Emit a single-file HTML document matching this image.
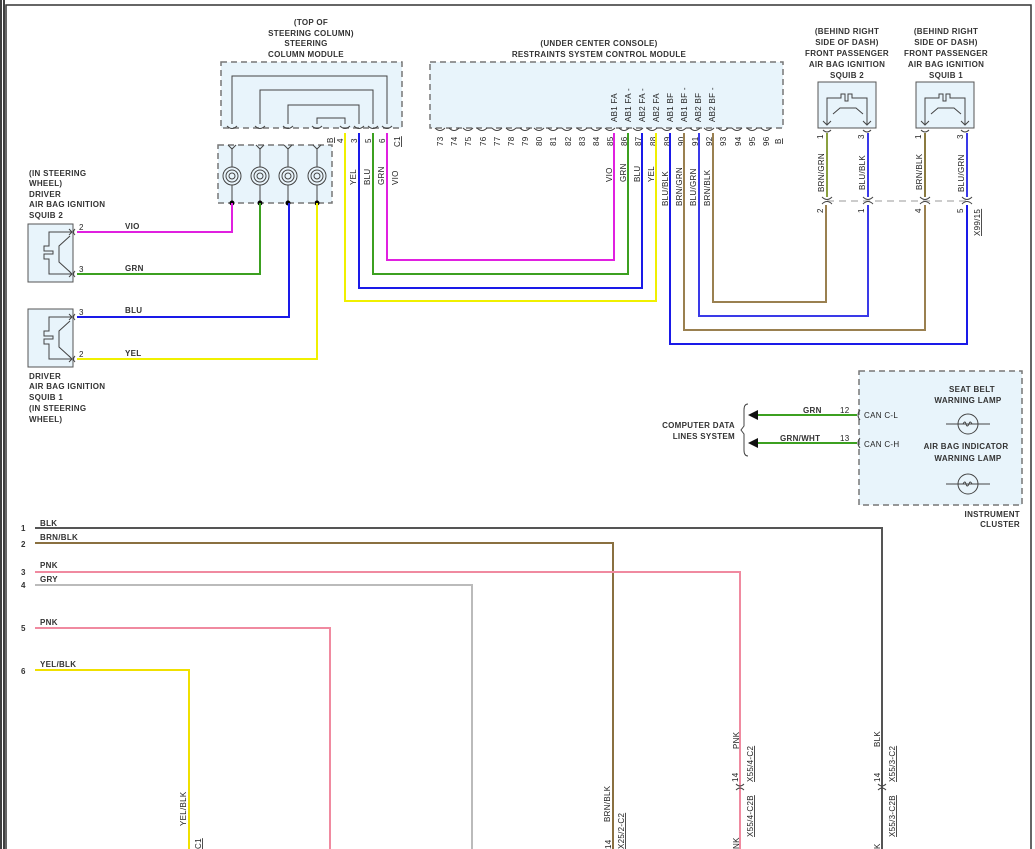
<!DOCTYPE html>
<html><head><meta charset="utf-8"><style>
html,body{margin:0;padding:0;background:#fff}
svg{display:block}
text{font-family:"Liberation Sans",sans-serif;font-size:8px;fill:#222;letter-spacing:0.3px}
.b{font-weight:bold;fill:#333}
</style></head><body>
<svg width="1035" height="849" viewBox="0 0 1035 849" xmlns="http://www.w3.org/2000/svg">
<!-- frame -->
<line x1="1" y1="0" x2="1" y2="849" stroke="#000" stroke-width="1.5"/>
<line x1="4" y1="0" x2="4" y2="849" stroke="#000" stroke-width="1.5"/>
<polyline points="6,849 6,5 1031,5 1031,849" fill="none" stroke="#333" stroke-width="1.5"/>

<!-- Steering column module -->
<text class="b" x="311" y="25" text-anchor="middle">(TOP OF</text>
<text class="b" x="311" y="36" text-anchor="middle">STEERING COLUMN)</text>
<text class="b" x="306" y="46" text-anchor="middle">STEERING</text>
<text class="b" x="306" y="57" text-anchor="middle">COLUMN MODULE</text>
<rect x="221" y="62" width="181" height="66" fill="#e8f4fb" stroke="#777" stroke-width="1.5" stroke-dasharray="6,4"/>
<g fill="none" stroke="#444" stroke-width="1">
<polyline points="232,124 232,76 387,76 387,124"/>
<polyline points="260,124 260,90 373,90 373,124"/>
<polyline points="288,124 288,105 359,105 359,124"/>
<polyline points="317,124 317,118 345,118 345,124"/>
</g>
<g fill="none" stroke="#444" stroke-width="1">
<path d="M227,126 q5,5 10,0 M255,126 q5,5 10,0 M283,126 q5,5 10,0 M312,126 q5,5 10,0 M340,126 q5,5 10,0 M354,126 q5,5 10,0 M368,126 q5,5 10,0 M382,126 q5,5 10,0"/>
</g>
<g transform="rotate(-90)">
<text x="-143" y="333" style="text-decoration:underline">B</text>
<text x="-143" y="343">4</text><text x="-143" y="357">3</text><text x="-143" y="371">5</text><text x="-143" y="385">6</text>
<text x="-147" y="400" style="text-decoration:underline">C1</text>
<text x="-185" y="356">YEL</text><text x="-185" y="370">BLU</text><text x="-185" y="384">GRN</text><text x="-185" y="398">VIO</text>
</g>
<!-- clockspring -->
<rect x="218" y="145" width="114" height="58" fill="#e8f4fb" stroke="#777" stroke-width="1.5" stroke-dasharray="6,4"/>
<g fill="none" stroke="#444" stroke-width="1">
<path d="M228,145 l4,4 l4,-4 M256,145 l4,4 l4,-4 M284,145 l4,4 l4,-4 M313,145 l4,4 l4,-4"/>
<line x1="232" y1="149" x2="232" y2="167"/><line x1="260" y1="149" x2="260" y2="167"/><line x1="288" y1="149" x2="288" y2="167"/><line x1="317" y1="149" x2="317" y2="167"/>
<g id="sp"><circle cx="232" cy="176" r="9"/><circle cx="232" cy="176" r="6"/><circle cx="232" cy="176" r="3"/><line x1="232" y1="185" x2="232" y2="203"/></g>
<use href="#sp" x="28"/><use href="#sp" x="56"/><use href="#sp" x="85"/>
</g>
<circle cx="232" cy="203" r="2.5" fill="#000"/><circle cx="260" cy="203" r="2.5" fill="#000"/><circle cx="288" cy="203" r="2.5" fill="#000"/><circle cx="317" cy="203" r="2.5" fill="#000"/>

<!-- RSCM -->
<text class="b" x="599" y="46" text-anchor="middle">(UNDER CENTER CONSOLE)</text>
<text class="b" x="599" y="57" text-anchor="middle">RESTRAINTS SYSTEM CONTROL MODULE</text>
<rect x="430" y="62" width="353" height="66" fill="#e8f4fb" stroke="#777" stroke-width="1.5" stroke-dasharray="6,4"/>
<g fill="none" stroke="#444" stroke-width="1" id="rp">
<path d="M435,128 q5,5 10,0 M449,128 q5,5 10,0 M463,128 q5,5 10,0 M477,128 q5,5 10,0 M492,128 q5,5 10,0 M506,128 q5,5 10,0 M520,128 q5,5 10,0 M534,128 q5,5 10,0 M548,128 q5,5 10,0 M562,128 q5,5 10,0 M577,128 q5,5 10,0 M591,128 q5,5 10,0 M605,128 q5,5 10,0 M619,128 q5,5 10,0 M633,128 q5,5 10,0 M647,128 q5,5 10,0 M662,128 q5,5 10,0 M676,128 q5,5 10,0 M690,128 q5,5 10,0 M704,128 q5,5 10,0 M718,128 q5,5 10,0 M732,128 q5,5 10,0 M747,128 q5,5 10,0 M761,128 q5,5 10,0"/>
</g>
<g transform="rotate(-90)">
<text x="-146" y="443">73</text><text x="-146" y="457">74</text><text x="-146" y="471">75</text><text x="-146" y="486">76</text><text x="-146" y="500">77</text><text x="-146" y="514">78</text><text x="-146" y="528">79</text><text x="-146" y="542">80</text><text x="-146" y="556">81</text><text x="-146" y="571">82</text><text x="-146" y="585">83</text><text x="-146" y="599">84</text><text x="-146" y="613">85</text><text x="-146" y="627">86</text><text x="-146" y="641">87</text><text x="-146" y="656">88</text><text x="-146" y="670">89</text><text x="-146" y="684">90</text><text x="-146" y="698">91</text><text x="-146" y="712">92</text><text x="-146" y="726">93</text><text x="-146" y="741">94</text><text x="-146" y="755">95</text><text x="-146" y="769">96</text>
<text x="-144" y="781" style="text-decoration:underline">B</text>
<text x="-122" y="617">AB1 FA</text><text x="-122" y="631">AB1 FA -</text><text x="-122" y="645">AB2 FA -</text><text x="-122" y="659">AB2 FA</text><text x="-122" y="673">AB1 BF</text><text x="-122" y="687">AB1 BF -</text><text x="-122" y="701">AB2 BF</text><text x="-122" y="715">AB2 BF -</text>
<text x="-182" y="612">VIO</text><text x="-182" y="626">GRN</text><text x="-182" y="640">BLU</text><text x="-182" y="654">YEL</text>
<text x="-206" y="668">BLU/BLK</text><text x="-206" y="682">BRN/GRN</text><text x="-206" y="696">BLU/GRN</text><text x="-206" y="710">BRN/BLK</text>
</g>

<!-- passenger squibs -->
<text class="b" x="847" y="34" text-anchor="middle">(BEHIND RIGHT</text>
<text class="b" x="847" y="45" text-anchor="middle">SIDE OF DASH)</text>
<text class="b" x="847" y="56" text-anchor="middle">FRONT PASSENGER</text>
<text class="b" x="847" y="67" text-anchor="middle">AIR BAG IGNITION</text>
<text class="b" x="847" y="78" text-anchor="middle">SQUIB 2</text>
<text class="b" x="946" y="34" text-anchor="middle">(BEHIND RIGHT</text>
<text class="b" x="946" y="45" text-anchor="middle">SIDE OF DASH)</text>
<text class="b" x="946" y="56" text-anchor="middle">FRONT PASSENGER</text>
<text class="b" x="946" y="67" text-anchor="middle">AIR BAG IGNITION</text>
<text class="b" x="946" y="78" text-anchor="middle">SQUIB 1</text>
<g id="ps" fill="none" stroke="#444" stroke-width="1">
<rect x="818" y="82" width="58" height="46" fill="#e8f4fb" stroke="#555"/>
<polyline points="827,124 827,98 841,98 841,94 845,94 845,101 848,101 848,94 852,94 852,98 867,98 867,124"/>
<polyline points="833,114 840,108 856,108 863,114"/>
<path d="M823,121 l4,4 l4,-4 M863,121 l4,4 l4,-4 M823,130 q4,4 8,0 M863,130 q4,4 8,0"/>
</g>
<use href="#ps" x="98"/>
<line x1="827" y1="201" x2="967" y2="201" stroke="#ccc" stroke-width="2" stroke-dasharray="7,5"/>
<g fill="none" stroke="#444" stroke-width="1">
<path d="M822,197 q5,5 10,0 M822,204 q5,-5 10,0 M863,197 q5,5 10,0 M863,204 q5,-5 10,0 M920,197 q5,5 10,0 M920,204 q5,-5 10,0 M962,197 q5,5 10,0 M962,204 q5,-5 10,0"/>
</g>
<g transform="rotate(-90)">
<text x="-139" y="823">1</text><text x="-139" y="864">3</text><text x="-139" y="921">1</text><text x="-139" y="963">3</text>
<text x="-213" y="823">2</text><text x="-213" y="864">1</text><text x="-213" y="921">4</text><text x="-213" y="963">5</text>
<text x="-192" y="824">BRN/GRN</text><text x="-190" y="865">BLU/BLK</text><text x="-190" y="922">BRN/BLK</text><text x="-192" y="964">BLU/GRN</text>
<text x="-236" y="980" style="text-decoration:underline">X99/15</text>
</g>

<!-- wires top -->
<g fill="none" stroke-width="2">
<polyline stroke="#e020e0" points="387,133 387,260 614,260 614,133"/>
<polyline stroke="#3ca020" points="373,133 373,274 628,274 628,133"/>
<polyline stroke="#1a1ae8" points="359,133 359,288 642,288 642,133"/>
<polyline stroke="#f0f000" points="345,133 345,301 656,301 656,133"/>
<polyline stroke="#9a8050" points="713,133 713,302 826,302 826,205"/>
<polyline stroke="#3a3ae8" points="699,133 699,316 868,316 868,205"/>
<polyline stroke="#9a8050" points="684,133 684,330 925,330 925,205"/>
<polyline stroke="#1a1ae8" points="670,133 670,344 967,344 967,205"/>
<line stroke="#8aa040" x1="827" y1="133" x2="827" y2="197"/>
<line stroke="#3a3ae8" x1="868" y1="133" x2="868" y2="197"/>
<line stroke="#8a7a40" x1="925" y1="133" x2="925" y2="197"/>
<line stroke="#3a3ae8" x1="967" y1="133" x2="967" y2="197"/>
<polyline stroke="#e020e0" points="77,232 232,232 232,203"/>
<polyline stroke="#3ca020" points="77,274 260,274 260,203"/>
<polyline stroke="#1a1ae8" points="77,317 289,317 289,203"/>
<polyline stroke="#f0f000" points="77,359 317,359 317,203"/>
</g>

<!-- driver squibs -->
<text class="b" x="29" y="176">(IN STEERING</text>
<text class="b" x="29" y="186">WHEEL)</text>
<text class="b" x="29" y="197">DRIVER</text>
<text class="b" x="29" y="207">AIR BAG IGNITION</text>
<text class="b" x="29" y="218">SQUIB 2</text>
<g id="ds" fill="none" stroke="#444" stroke-width="1">
<rect x="28" y="224" width="45" height="58" fill="#e8f4fb" stroke="#555"/>
<polyline points="72,232 49,232 49,246 44,246 44,251 53,251 53,254 44,254 44,259 49,259 49,274 72,274"/>
<polyline points="70,236 59,246 59,262 70,272"/>
<path d="M69,229 l3,3 l-3,3 M69,271 l3,3 l-3,3 M75,229 q-3,3 0,6 M75,271 q-3,3 0,6"/>
</g>
<use href="#ds" y="85"/>
<text x="79" y="230">2</text><text x="79" y="272">3</text><text x="79" y="315">3</text><text x="79" y="357">2</text>
<text class="b" x="125" y="229">VIO</text><text class="b" x="125" y="271">GRN</text><text class="b" x="125" y="313">BLU</text><text class="b" x="125" y="356">YEL</text>
<text class="b" x="29" y="379">DRIVER</text>
<text class="b" x="29" y="389">AIR BAG IGNITION</text>
<text class="b" x="29" y="400">SQUIB 1</text>
<text class="b" x="29" y="411">(IN STEERING</text>
<text class="b" x="29" y="422">WHEEL)</text>

<!-- instrument cluster -->
<rect x="859" y="371" width="163" height="134" fill="#e8f4fb" stroke="#777" stroke-width="1.5" stroke-dasharray="6,4"/>
<text class="b" x="972" y="392" text-anchor="middle">SEAT BELT</text>
<text class="b" x="968" y="403" text-anchor="middle">WARNING LAMP</text>
<text class="b" x="966" y="449" text-anchor="middle">AIR BAG INDICATOR</text>
<text class="b" x="968" y="461" text-anchor="middle">WARNING LAMP</text>
<g fill="none" stroke="#444" stroke-width="1">
<circle cx="968" cy="424" r="10"/><line x1="946" y1="424" x2="990" y2="424"/><path d="M963,424 q2,-4 3,0 q1,4 3,0 q1,-4 3,0"/>
<circle cx="968" cy="484" r="10"/><line x1="946" y1="484" x2="990" y2="484"/><path d="M963,484 q2,-4 3,0 q1,4 3,0 q1,-4 3,0"/>
<path d="M860,410 q-4,5 0,10 M860,438 q-4,5 0,10"/>
<path d="M748,404 q-4,0 -4,6 l0,16 l-3,4 l3,4 l0,16 q0,6 4,6"/>
</g>
<text x="864" y="418">CAN C-L</text><text x="864" y="447">CAN C-H</text>
<text x="840" y="413">12</text><text x="840" y="441">13</text>
<text class="b" x="803" y="413">GRN</text><text class="b" x="780" y="441">GRN/WHT</text>
<line x1="757" y1="415" x2="857" y2="415" stroke="#3ca020" stroke-width="2"/>
<line x1="757" y1="443" x2="857" y2="443" stroke="#3ca020" stroke-width="2"/>
<path d="M748,415 l10,-5 l0,10 z M748,443 l10,-5 l0,10 z" fill="#111"/>
<text class="b" x="735" y="428" text-anchor="end">COMPUTER DATA</text>
<text class="b" x="735" y="439" text-anchor="end">LINES SYSTEM</text>
<text class="b" x="1020" y="517" text-anchor="end">INSTRUMENT</text>
<text class="b" x="1020" y="527" text-anchor="end">CLUSTER</text>

<!-- bottom wires -->
<g fill="none" stroke-width="2">
<polyline stroke="#555" points="35,528 882,528 882,849"/>
<polyline stroke="#8a7040" points="35,543 613,543 613,849"/>
<polyline stroke="#f08aa0" points="35,572 740,572 740,849"/>
<polyline stroke="#bbb" points="35,585 472,585 472,849"/>
<polyline stroke="#f08aa0" points="35,628 330,628 330,849"/>
<polyline stroke="#f0e000" points="35,670 189,670 189,849"/>
</g>
<g fill="none" stroke="#444" stroke-width="1">
<path d="M736,784 q4,4 8,0 M736,790 q4,-4 8,0 M878,784 q4,4 8,0 M878,790 q4,-4 8,0"/>
</g>
<text class="b" x="21" y="531">1</text><text class="b" x="21" y="547">2</text><text class="b" x="21" y="575">3</text><text class="b" x="21" y="588">4</text><text class="b" x="21" y="631">5</text><text class="b" x="21" y="674">6</text>
<text class="b" x="40" y="526">BLK</text><text class="b" x="40" y="540">BRN/BLK</text><text class="b" x="40" y="568">PNK</text><text class="b" x="40" y="582">GRY</text><text class="b" x="40" y="625">PNK</text><text class="b" x="40" y="667">YEL/BLK</text>
<g transform="rotate(-90)">
<text x="-826" y="186">YEL/BLK</text>
<text x="-849" y="201" style="text-decoration:underline">C1</text>
<text x="-822" y="610">BRN/BLK</text>
<text x="-849" y="624" style="text-decoration:underline">X25/2-C2</text>
<text x="-849" y="611">14</text>
<text x="-749" y="739">PNK</text>
<text x="-782" y="738">14</text>
<text x="-782" y="753" style="text-decoration:underline">X55/4-C2</text>
<text x="-837" y="753" style="text-decoration:underline">X55/4-C2B</text>
<text x="-849" y="739">NK</text>
<text x="-747" y="880">BLK</text>
<text x="-782" y="880">14</text>
<text x="-782" y="895" style="text-decoration:underline">X55/3-C2</text>
<text x="-837" y="895" style="text-decoration:underline">X55/3-C2B</text>
<text x="-849" y="880">K</text>
</g>
</svg>
</body></html>
